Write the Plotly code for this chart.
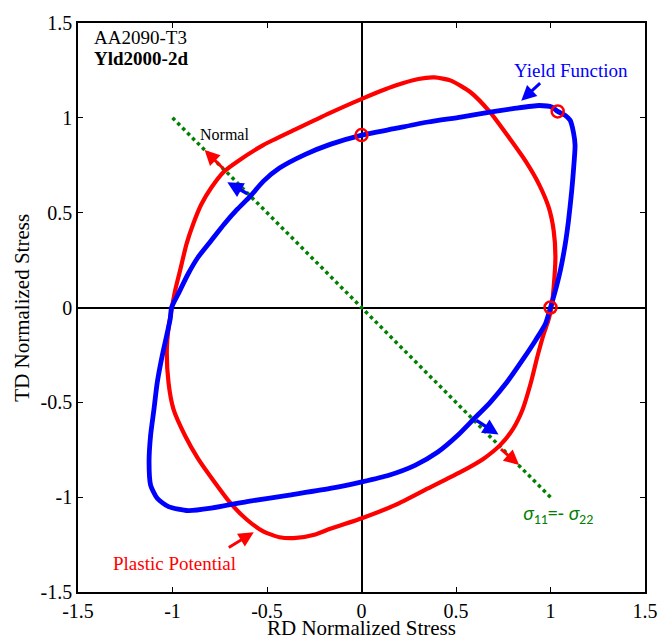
import plotly.graph_objects as go

# Yld2000-2d yield locus for AA2090-T3 (normalized by RD yield stress)
yield_x = [1.0, 1.026, 1.052, 1.078, 1.095, 1.112, 1.121, 1.130, 1.121, 1.104, 1.078,
           1.038, 1.009, 0.940, 0.801, 0.680, 0.525, 0.352, 0.180, 0.002,
           -0.166, -0.300, -0.434, -0.520, -0.589, -0.658, -0.727, -0.796, -0.865,
           -0.917, -0.969, -1.005, -1.012, -1.055, -1.081, -1.098, -1.116, -1.124,
           -1.116, -1.081, -1.021, -0.917, -0.796, -0.606, -0.382, -0.166,
           0.002, 0.145, 0.283, 0.404, 0.508, 0.594, 0.680, 0.767, 0.853, 0.922,
           0.974, 1.0]
yield_y = [0.0, 0.090, 0.195, 0.334, 0.456, 0.613, 0.717, 0.856, 0.926, 0.987, 1.013,
           1.034, 1.056, 1.065, 1.048, 1.030, 1.004, 0.978, 0.944, 0.909,
           0.860, 0.806, 0.735, 0.665, 0.586, 0.517, 0.439, 0.352, 0.265,
           0.178, 0.073, 0.0, -0.060, -0.257, -0.397, -0.536, -0.675, -0.815,
           -0.936, -1.006, -1.050, -1.071, -1.058, -1.023, -0.989, -0.954,
           -0.919, -0.884, -0.832, -0.762, -0.675, -0.588, -0.501, -0.397, -0.275, -0.171,
           -0.084, 0.0]

# Plastic potential (non-associated flow)
pot_x = [1.005, 1.017, 1.026, 1.017, 0.991, 0.940, 0.870, 0.784, 0.680, 0.577, 0.473,
         0.387, 0.301, 0.180, 0.002, -0.166, -0.347, -0.520, -0.658, -0.727, -0.796,
         -0.848, -0.891, -0.926, -0.960, -0.986, -1.003, -1.020, -1.030, -1.021,
         -0.995, -0.934, -0.865, -0.779, -0.693, -0.606, -0.520, -0.434, -0.347,
         -0.244, -0.166, 0.002, 0.180, 0.352, 0.525, 0.646, 0.732, 0.801, 0.853,
         0.896, 0.931, 0.965, 0.988, 1.005]
pot_y = [0.0, 0.108, 0.265, 0.404, 0.526, 0.648, 0.769, 0.891, 1.030, 1.135, 1.196,
         1.213, 1.205, 1.170, 1.100, 1.026, 0.940, 0.856, 0.769, 0.717, 0.630,
         0.543, 0.439, 0.334, 0.195, 0.090, 0.0, -0.100, -0.223, -0.397,
         -0.536, -0.675, -0.797, -0.919, -1.032, -1.119, -1.180, -1.211, -1.215,
         -1.197, -1.167, -1.111, -1.041, -0.954, -0.867, -0.797, -0.727, -0.641, -0.536,
         -0.397, -0.257, -0.136, -0.070, 0.0]

# Calibration points (uniaxial RD, uniaxial TD, equibiaxial)
cal_x = [0.0, 1.038, 1.0]
cal_y = [0.909, 1.034, 0.0]

# Pure shear path sigma11 = -sigma22
shear_x = [-1.0, 1.0]
shear_y = [1.0, -1.0]

# Normal vectors (tail -> head) at the pure-shear states
normal_yield = [((-0.596, 0.595), (-0.71, 0.66)), ((0.60, -0.59), (0.725, -0.67))]
normal_pot = [((-0.725, 0.726), (-0.83, 0.83)), ((0.73, -0.74), (0.834, -0.83))]

tick_vals = [-1.5, -1.0, -0.5, 0.0, 0.5, 1.0, 1.5]
tick_text = ["-1.5", "-1", "-0.5", "0", "0.5", "1", "1.5"]

SERIF = "Times New Roman, Liberation Serif, serif"
BLUE = "#0000ff"
RED = "#ff0000"
GREEN = "#008000"

fig = go.Figure()

fig.add_trace(go.Scatter(x=shear_x, y=shear_y, mode="lines",
                         line=dict(color=GREEN, width=3.5, dash="dot"),
                         hoverinfo="skip"))
fig.add_trace(go.Scatter(x=pot_x, y=pot_y, mode="lines",
                         line=dict(color=RED, width=4.2, shape="spline", smoothing=0.6)))
fig.add_trace(go.Scatter(x=yield_x, y=yield_y, mode="lines",
                         line=dict(color=BLUE, width=4.8, shape="spline", smoothing=0.6)))
fig.add_trace(go.Scatter(x=cal_x, y=cal_y, mode="markers",
                         marker=dict(symbol="circle-open", size=12, color=RED,
                                     line=dict(width=2.5, color=RED))))

annotations = []

def arrow(tail, head, color, width=3, size=1.0):
    return dict(x=head[0], y=head[1], ax=tail[0], ay=tail[1],
                xref="x", yref="y", axref="x", ayref="y", text="",
                showarrow=True, arrowhead=2, arrowsize=size,
                arrowwidth=width, arrowcolor=color)

for tail, head in normal_yield:
    annotations.append(arrow(tail, head, BLUE, 3.5, 0.9))
for tail, head in normal_pot:
    annotations.append(arrow(tail, head, RED, 3, 1.0))

# Label arrows
annotations.append(arrow((0.953, 1.19), (0.845, 1.09), BLUE, 3, 1.0))
annotations.append(arrow((-0.71, -1.27), (-0.57, -1.185), RED, 3, 1.0))

annotations += [
    dict(x=1.11, y=1.25, xref="x", yref="y", text="Yield Function", showarrow=False,
         font=dict(family=SERIF, size=19, color=BLUE)),
    dict(x=-0.99, y=-1.35, xref="x", yref="y", text="Plastic Potential", showarrow=False,
         font=dict(family=SERIF, size=19, color=RED)),
    dict(x=-0.725, y=0.91, xref="x", yref="y", text="Normal", showarrow=False,
         font=dict(family=SERIF, size=16, color="black")),
    dict(x=0.845, y=-1.09, xref="x", yref="y", xanchor="left",
         text="<i>σ</i><sub>11</sub>=- <i>σ</i><sub>22</sub>", showarrow=False,
         font=dict(family="Carlito, Open Sans, sans-serif", size=20, color=GREEN)),
    dict(x=0.024, y=0.975, xref="paper", yref="paper", xanchor="left", yanchor="middle",
         text="AA2090-T3", showarrow=False,
         font=dict(family=SERIF, size=19, color="black")),
    dict(x=0.024, y=0.938, xref="paper", yref="paper", xanchor="left", yanchor="middle",
         text="<b>Yld2000-2d</b>", showarrow=False,
         font=dict(family=SERIF, size=19, color="black")),
    dict(x=0.5, y=-0.0635, xref="paper", yref="paper", xanchor="center", yanchor="middle",
         text="RD Normalized Stress", showarrow=False,
         font=dict(family=SERIF, size=21, color="black")),
    dict(x=-0.1002, y=0.5, xref="paper", yref="paper", xanchor="center", yanchor="middle",
         text="TD Normalized Stress", textangle=-90, showarrow=False,
         font=dict(family=SERIF, size=21, color="black")),
]

axis_common = dict(
    range=[-1.5, 1.5], tickvals=tick_vals, ticktext=tick_text,
    showgrid=False, zeroline=True, zerolinecolor="black", zerolinewidth=1.5,
    showline=True, linecolor="black", linewidth=1.5, mirror="ticks",
    ticks="inside", ticklen=5, tickwidth=1, tickcolor="black",
    tickfont=dict(family=SERIF, size=20, color="black"),
)

fig.update_layout(
    width=670, height=641,
    margin=dict(l=78, r=13, t=19, b=49),
    paper_bgcolor="white", plot_bgcolor="white",
    showlegend=False,
    xaxis=axis_common,
    yaxis=axis_common,
    annotations=annotations,
)

fig.write_html("out.html")
